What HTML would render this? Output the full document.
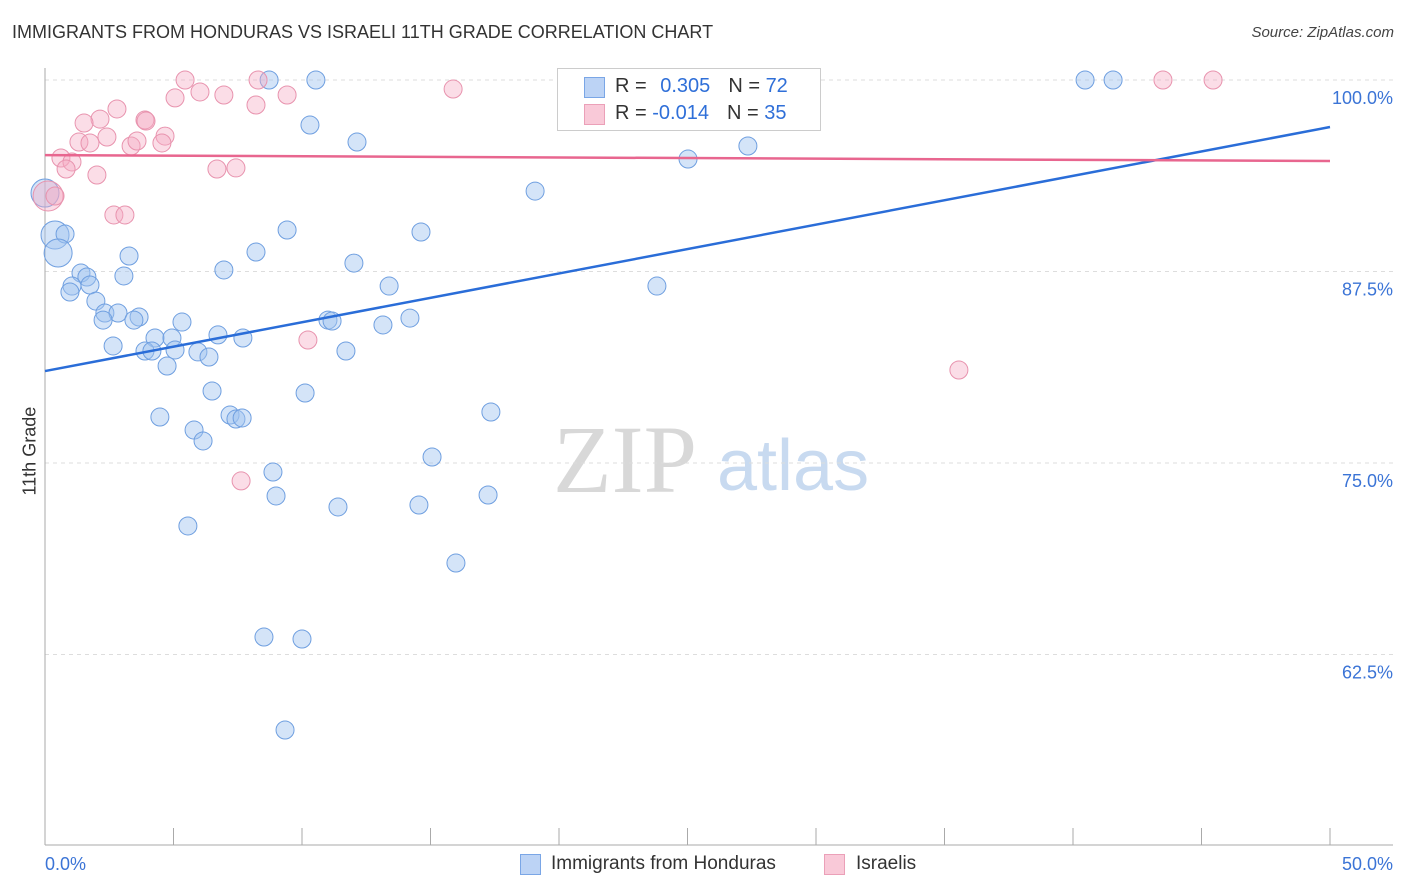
<!DOCTYPE html>
<html><head><meta charset="utf-8"><style>
body{margin:0;background:#fff;font-family:"Liberation Sans",sans-serif}
#wrap{position:relative;width:1406px;height:892px;overflow:hidden}
.t{position:absolute;white-space:nowrap}
</style></head><body>
<div id="wrap">
<div class="t" style="left:12px;top:22px;font-size:18px;color:#333;">IMMIGRANTS FROM HONDURAS VS ISRAELI 11TH GRADE CORRELATION CHART</div>
<div class="t" style="right:12px;top:24px;font-size:15px;color:#444;font-style:italic;">Source: ZipAtlas.com</div>
<svg id="plot" width="1406" height="892" style="position:absolute;left:0;top:0">
<g>
<text x="553" y="492" font-family="Liberation Serif,serif" font-size="96" fill="#d8d8d8">ZIP</text>
<text x="717" y="490" font-family="Liberation Sans,sans-serif" font-size="72" fill="#c8daf0">atlas</text>
</g>
<g id="grid"></g><g id="axes"></g><g id="pts"></g><g id="lines"></g>
</svg>
<div style="position:absolute;left:557px;top:68px;width:262px;height:61px;border:1px solid #ccc;background:#fff;font-size:20px;">
<div style="position:absolute;left:26px;top:8px;width:19px;height:19px;background:#bcd3f5;border:1px solid #7aa6e6"></div>
<div class="t" style="left:57px;top:6px;color:#333">R = <span style="color:#2f6fd8;margin-left:8px">0.305</span><span style="margin-left:18px;color:#333">N = </span><span style="color:#2f6fd8">72</span></div>
<div style="position:absolute;left:26px;top:35px;width:19px;height:19px;background:#f9c9d8;border:1px solid #eba0b8"></div>
<div class="t" style="left:57px;top:33px;color:#333">R = <span style="color:#2f6fd8">-0.014</span><span style="margin-left:18px;color:#333">N = </span><span style="color:#2f6fd8">35</span></div>
</div>
<div class="t" style="left:-10px;top:445px;font-size:18px;color:#333;transform:rotate(-90deg);transform-origin:center;width:80px;text-align:center">11th Grade</div>
<div>
<div style="position:absolute;left:520px;top:854px;width:19px;height:19px;background:#bcd3f5;border:1px solid #7aa6e6"></div>
<div class="t" style="left:551px;top:853px;font-size:19px;color:#333">Immigrants from Honduras</div>
<div style="position:absolute;left:824px;top:854px;width:19px;height:19px;background:#f9c9d8;border:1px solid #eba0b8"></div>
<div class="t" style="left:856px;top:853px;font-size:19px;color:#333">Israelis</div>
</div>
</div>
<script>
const yTicks=[100,87.5,75,62.5];
const yTickLabels=["100.0%","87.5%","75.0%","62.5%"];
const xTickLabels=["0.0%","50.0%"];
const blueX=[8.72,10.54,40.47,41.56,24.71,28.21,10.31,12.14,19.07,25.02,27.35,0,0.39,0.78,0.51,9.42,14.63,3.27,8.21,1.40,1.63,3.07,6.96,12.02,1.05,1.75,0.97,1.98,13.39,23.81,2.33,2.84,2.26,3.66,3.46,5.33,11.01,11.17,14.20,13.15,4.28,4.94,6.73,7.70,2.65,3.89,4.16,5.06,5.95,6.38,11.71,4.75,6.50,10.12,4.47,7.20,7.43,7.67,17.35,5.80,6.15,15.06,8.87,8.99,17.24,11.40,14.55,5.56,15.99,8.52,10.00,9.34];
const blueY=[100,100,100,100,100,100,97.06,95.95,92.75,94.84,95.69,92.62,89.88,89.95,88.71,90.21,90.08,88.51,88.77,87.40,87.14,87.21,87.60,88.05,86.55,86.62,86.16,85.57,86.55,86.55,84.79,84.79,84.33,84.53,84.33,84.20,84.33,84.27,84.46,84.01,83.16,83.16,83.36,83.16,82.64,82.31,82.31,82.38,82.25,81.92,82.31,81.33,79.70,79.57,78.00,78.13,77.87,77.94,78.33,77.15,76.44,75.39,74.41,72.85,72.91,72.13,72.26,70.89,68.47,63.64,63.51,57.57];
const blueBig=[11,12,14];
const pinkX=[5.45,8.29,15.88,43.50,45.45,5.06,6.03,6.96,8.21,9.42,2.80,3.89,3.93,2.14,1.52,2.41,4.67,1.32,1.75,3.35,3.58,4.55,0.62,1.05,0.82,2.02,6.69,7.43,0.12,0.39,2.68,3.11,10.23,35.56,7.63];
const pinkY=[100,100,99.41,100,100,98.83,99.22,99.02,98.37,99.02,98.11,97.39,97.32,97.45,97.19,96.28,96.34,95.95,95.89,95.69,96.02,95.89,94.91,94.65,94.19,93.80,94.19,94.26,92.43,92.43,91.19,91.19,83.03,81.07,73.83];
const pinkBig=[28];
const blueTrend=[81.0,96.93];
const pinkTrend=[95.1,94.71];
const NS="http://www.w3.org/2000/svg";
const xs=v=>45+v/50*1285;
const ys=v=>80+(100-v)/12.5*191.5;
function mk(tag,attrs,parent){const e=document.createElementNS(NS,tag);for(const k in attrs)e.setAttribute(k,attrs[k]);parent.appendChild(e);return e;}
const grid=document.getElementById('grid'),axes=document.getElementById('axes'),pts=document.getElementById('pts'),lines=document.getElementById('lines');
yTicks.forEach((t,i)=>{
 const l=mk('line',{x1:45,x2:1393,y1:ys(t),y2:ys(t),stroke:'#ddd','stroke-dasharray':'4,4'},grid);
 
 
 const tx=mk('text',{x:1393,y:ys(t)+24,'text-anchor':'end','font-size':18,fill:'#3b74d6','font-family':'Liberation Sans,sans-serif'},axes);
 tx.textContent=yTickLabels[i];
 
 
});
const ax=mk('line',{x1:45,x2:45,y1:68,y2:845,stroke:'#aaa'},axes);


const bx=mk('line',{x1:45,x2:1393,y1:845,y2:845,stroke:'#aaa'},axes);


for(let i=0;i<=10;i++){const t=mk('line',{x1:xs(i*5),x2:xs(i*5),y1:828,y2:845,stroke:'#aaa'},axes);
 
 }
[[0,'start',45],[50,'end',1393]].forEach((a,i)=>{const t=mk('text',{x:a[2],y:870,'text-anchor':a[1],'font-size':18,fill:'#3b74d6','font-family':'Liberation Sans,sans-serif'},axes);
 t.textContent=xTickLabels[i];
 
 });
blueX.forEach((x,i)=>{const c=mk('circle',{cx:xs(x),cy:ys(blueY[i]),r:blueBig.includes(i)?14:9,fill:'rgba(160,195,240,0.45)',stroke:'#6f9fe0','stroke-width':1},pts);
 
 });
pinkX.forEach((x,i)=>{const c=mk('circle',{cx:xs(x),cy:ys(pinkY[i]),r:pinkBig.includes(i)?15:9,fill:'rgba(245,170,195,0.4)',stroke:'#e893ae','stroke-width':1},pts);
 
 });
const bl=mk('line',{x1:xs(0),x2:xs(50),y1:ys(blueTrend[0]),y2:ys(blueTrend[1]),stroke:'#2a6dd8','stroke-width':2.5},lines);


const pl=mk('line',{x1:xs(0),x2:xs(50),y1:ys(pinkTrend[0]),y2:ys(pinkTrend[1]),stroke:'#e8668f','stroke-width':2.5},lines);


</script>
</body></html>
